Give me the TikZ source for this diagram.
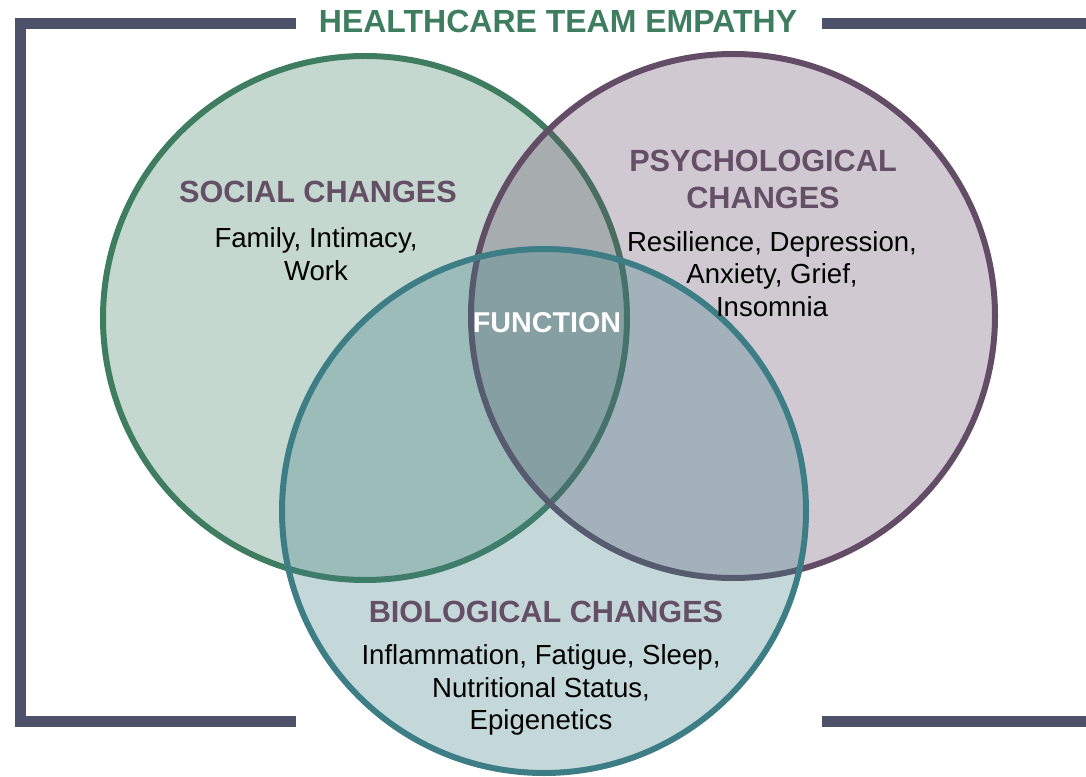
\documentclass[tikz,border=0pt]{standalone}
\usepackage{fontspec}
\setmainfont{Liberation Sans}
\definecolor{framegray}{RGB}{77,81,105}
\definecolor{socialgreen}{RGB}{62,125,95}
\definecolor{psychpurple}{RGB}{99,77,102}
\definecolor{bioteal}{RGB}{61,125,133}
\definecolor{headpurple}{RGB}{101,79,102}
\begin{document}
\begin{tikzpicture}[x=0.75pt,y=-0.75pt,
  frame/.style={draw=framegray,line width=8.25pt},
  venn/.style={circle,draw=#1,fill=#1,fill opacity=0.3,draw opacity=1,
    line width=4.5pt,minimum size=393pt,inner sep=0pt},
  head/.style={text=headpurple,font=\bfseries\fontsize{23}{27.75}\selectfont,align=center},
  body/.style={font=\fontsize{20.7}{24.4}\selectfont,align=center}]
\useasboundingbox (0,0) rectangle (1086,777);
% frame
\draw[frame] (296,24) -- (20,24) -- (20,721) -- (296,721);
\draw[frame] (822,24) -- (1086,24);
\draw[frame] (822,721) -- (1086,721);
\node[text=socialgreen,font=\bfseries\fontsize{24}{28}\selectfont] (title) at (558,21) {HEALTHCARE TEAM EMPATHY};
% circles
\node[venn=socialgreen] (social) at (365,318) {};
\node[venn=psychpurple] (psych) at (733,316) {};
\node[venn=bioteal] (bio) at (544,511) {};
% labels
\node[head] (socialhead) at (318,192) {SOCIAL CHANGES};
\node[body] (socialbody) at (316,254) {Family, Intimacy,\\Work};
\node[head] (psychhead) at (763,179) {PSYCHOLOGICAL\\CHANGES};
\node[body] (psychbody) at (772,274) {Resilience, Depression,\\Anxiety, Grief,\\Insomnia};
\node[head] (biohead) at (546,612) {BIOLOGICAL CHANGES};
\node[body] (biobody) at (541,690) {Inflammation, Fatigue, Sleep,\\Nutritional Status,\\Epigenetics};
\node[text=white,font=\bfseries\fontsize{21.5}{26}\selectfont] (function) at (547,323) {FUNCTION};
\end{tikzpicture}
\end{document}
